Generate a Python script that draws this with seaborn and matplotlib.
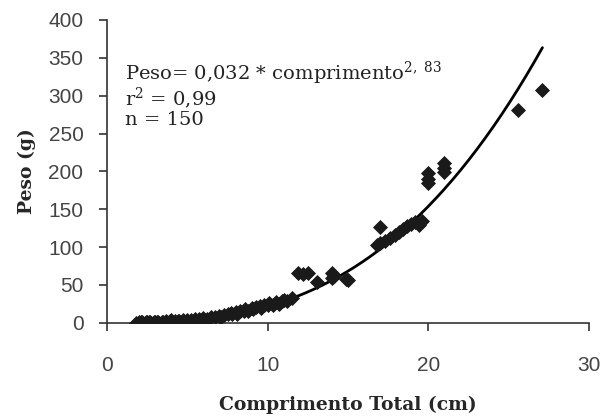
import numpy as np
import pandas as pd
import matplotlib
matplotlib.use("Agg")
import matplotlib.pyplot as plt
import seaborn as sns

# comprimento total (cm) e peso (g)
comprimento = [1.8, 2.0, 2.1, 2.2, 2.4, 2.5, 2.6, 2.7, 2.9, 3.0, 3.1, 3.2, 3.4, 3.5,
               3.7, 3.9, 4.0, 4.2, 4.4, 4.5, 4.7, 5.0, 5.2, 5.5, 5.7, 6.0, 6.2,
               6.5, 6.7, 7.0, 7.1, 7.3, 7.5, 7.7, 7.8, 8.0, 8.1, 8.3, 8.5, 8.6,
               8.8, 9.0, 9.1, 9.3, 9.5, 9.6, 9.8, 10.0, 10.1, 10.3, 10.5, 10.7,
               10.9, 11.0, 11.2, 11.5,
               11.9, 12.2, 12.5, 13.1, 14.0, 14.0, 14.1, 14.9, 15.0,
               16.8, 17.0, 17.0, 17.3, 17.6, 17.9, 18.2, 18.4, 18.7, 18.9, 19.2,
               19.4, 19.6,
               20.0, 20.0, 20.0, 21.0, 21.0, 21.0, 25.6, 27.1]
peso = [0.2, 0.3, 0.3, 0.4, 0.4, 0.5, 0.6, 0.6, 0.8, 0.9, 1.0, 1.2, 1.5, 1.4,
        1.6, 2.5, 4.0, 2.2, 2.5, 2.4, 3.0, 3.5, 4.0, 4.5, 5.5, 6.0, 5.5,
        7.5, 8.0, 9.0, 8.0, 10.0, 11.0, 13.0, 11.0, 14.0, 12.0, 16.0, 15.0, 18.0,
        16.0, 19.0, 17.5, 21.0, 22.0, 19.0, 24.0, 23.0, 26.0, 24.0, 27.0, 25.0,
        28.0, 30.0, 29.0, 33.0,
        66.0, 64.0, 66.0, 54.0, 66.0, 59.0, 62.0, 58.0, 56.0,
        102.0, 126.0, 105.0, 108.0, 112.0, 116.0, 120.0, 124.0, 128.0, 130.0, 133.0,
        129.0, 134.0,
        198.0, 185.0, 190.0, 211.0, 199.0, 205.0, 281.0, 308.0]

# coeficientes da equacao mostrada no grafico
coef_a = 0.032
coef_b = 2.83
r2_txt = "0,99"
n_txt = "150"

df = pd.DataFrame({"comprimento": comprimento, "peso": peso})
curva_x = np.linspace(min(comprimento), max(comprimento), 200)
curva = pd.DataFrame({"comprimento": curva_x, "peso": coef_a * curva_x ** coef_b})

sns.set_style("ticks")
plt.rcParams["mathtext.fontset"] = "dejavuserif"

fig = plt.figure(figsize=(6.03, 4.20), dpi=100)
ax = fig.add_axes([0.1775, 0.2317, 0.7993, 0.7207])

sns.lineplot(data=curva, x="comprimento", y="peso", color="black", linewidth=2.0, ax=ax)
sns.scatterplot(data=df, x="comprimento", y="peso", marker="D", s=50,
                color="#1a1a1a", edgecolor="#1a1a1a", linewidth=0.6, ax=ax, zorder=3)

ax.set_xlim(0, 30)
ax.set_ylim(0, 400)
ax.set_xticks([0, 10, 20, 30])
ax.set_yticks(range(0, 401, 50))
sns.despine(ax=ax)
for s in ["left", "bottom"]:
    ax.spines[s].set_color("#333333")
    ax.spines[s].set_linewidth(1.2)
ax.tick_params(axis="both", direction="out", length=6, width=1.2, color="#333333",
               labelcolor="#444444")
ax.tick_params(axis="y", pad=11)
ax.tick_params(axis="x", pad=18)
for lab in ax.get_xticklabels() + ax.get_yticklabels():
    lab.set_family("Liberation Sans")
    lab.set_fontsize(15)

ax.set_xlabel("Comprimento Total (cm)", family="DejaVu Serif", fontweight="bold",
              fontsize=13.5, labelpad=15)
ax.set_ylabel("Peso (g)", family="DejaVu Serif", fontweight="bold",
              fontsize=13.5, labelpad=9)

txt_kw = dict(transform=ax.transAxes, family="DejaVu Serif", fontsize=14,
              ha="left", va="top", color="#222222")
ax.text(0.038, 0.87, "Peso= " + f"{coef_a:.3f}".replace(".", ",") + " * comprimento"
        + r"$^{2,\ 83}$", **txt_kw)
ax.text(0.038, 0.785, r"r$^{2}$ = " + r2_txt, **txt_kw)
ax.text(0.038, 0.70, "n = " + n_txt, **txt_kw)

fig.savefig("out.png", dpi=100)
